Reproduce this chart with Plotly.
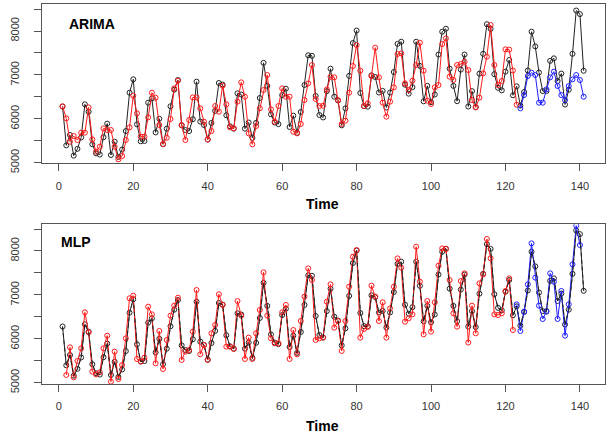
import plotly.graph_objects as go

# ---- data ----
actual = [6280, 5395, 5630, 5160, 5315, 5575, 6330, 6160, 5420, 5213,
          5185, 5580, 5890, 5175, 5478, 5130, 5300, 5720, 6594, 6900,
          5873, 5487, 5494, 6367, 6465, 5690, 6000, 5420, 5775, 6285,
          6663, 6883, 5850, 5744, 5721, 5990, 6845, 5935, 5858, 5525,
          5905, 6180, 6815, 6780, 6080, 5828, 5775, 6580, 6553, 5775,
          5915, 5566, 5908, 6473, 7275, 6750, 6100, 5915, 5878, 6540,
          6686, 5813, 6071, 5680, 6155, 6770, 7446, 7435, 6520, 6086,
          6030, 6630, 7141, 6503, 6416, 5850, 6238, 6978, 7725, 8010,
          6587, 6288, 6276, 6990, 6952, 6598, 6636, 6257, 6598, 7065,
          7707, 7756, 6777, 6572, 6720, 7756, 7206, 6398, 6750, 6378,
          6553, 7464, 7984, 8052, 7141, 6750, 6400, 7120, 7464, 6280,
          6630, 6268, 7028, 7480, 8155, 8048, 7016, 6705, 6648, 7073,
          7339, 6535, 6740, 6300, 6610, 7100, 7984, 7650, 7054, 6630,
          6630, 7320, 7377, 6860, 7030, 6325, 6663, 7480, 8467, 8384,
          7093]

arima_fit = [6283, 6010, 5478, 5607, 5516, 5683, 5683, 6260, 5531, 5251,
             5364, 5782, 5744, 5744, 5364, 5076, 5152, 5516, 5805, 6526,
             6124, 5592, 5592, 6033, 6594, 6481, 5858, 5425, 5569, 5995,
             6693, 6868, 5858, 5516, 5972, 6488, 6488, 6238, 5934, 5532,
             5721, 6291, 6162, 6754, 6329, 5805, 5782, 6390, 6830, 6503,
             5668, 5418, 5835, 6238, 6655, 6997, 6215, 5934, 6291, 6693,
             6503, 6503, 5706, 5668, 5881, 6427, 6807, 7225, 6450, 6291,
             6298, 6670, 6959, 6944, 6427, 5881, 5957, 6594, 7202, 7680,
             7096, 6291, 6352, 6974, 7620, 6944, 6367, 6048, 6390, 6716,
             7475, 7490, 6807, 6655, 6868, 7225, 7733, 7096, 6412, 6336,
             6716, 6769, 7703, 7832, 6959, 6883, 7225, 7248, 7300, 7110,
             6427, 6260, 6481, 7035, 7415, 8136, 7225, 6769, 6860, 7582,
             7575, 7100, 6320]
arima_fc = [6238, 6541, 6974, 7050, 6997, 6367, 6367, 6670, 6944, 7073,
            6746, 6541, 6427, 6746, 6898, 6997, 6883, 6503]

mlp_fit = [5175, 5806, 5122, 5494, 5783, 6603, 6147, 5251, 5191, 5236,
           5783, 6071, 5024, 5707, 5084, 5403, 6010, 6922, 6982, 5540,
           5479, 5570, 6732, 6557, 5441, 6178, 5312, 5973, 6527, 6755,
           6937, 5517, 5707, 5745, 6163, 7112, 5647, 5859, 5517, 6125,
           6315, 7014, 6771, 5821, 5821, 5768, 6861, 6527, 5540, 6026,
           5540, 6125, 6656, 7514, 6527, 6010, 5897, 5897, 6603, 6771,
           5540, 6200, 5646, 6405, 6960, 7605, 7340, 5973, 6010, 6026,
           6846, 7240, 6253, 6405, 5722, 6405, 7187, 7870, 8022, 6026,
           6223, 6276, 7210, 6960, 6405, 6831, 6026, 6694, 7187, 7832,
           7620, 6390, 6466, 6557, 8098, 7301, 6102, 6861, 6163, 6831,
           7666, 8060, 8045, 7339, 6580, 6276, 7317, 7491, 5915, 6754,
           6124, 7263, 7468, 8273, 7833, 6557, 6542, 6580, 7088, 7377,
           6200]
mlp_fc = [6785, 6177, 6618, 7240, 8174, 7393, 6755, 6451, 6618, 7491,
          7301, 6451, 7089, 6071, 6785, 7696, 8577, 8136]

actual_start = 1
arima_fit_start = 1
arima_fc_start = 124
mlp_fit_start = 2
mlp_fc_start = 123

x_ticks = [0, 20, 40, 60, 80, 100, 120, 140]
y_ticks = [5000, 5500, 6000, 6500, 7000, 7500, 8000, 8500]
y_ticktext = ["5000", "", "6000", "", "7000", "", "8000", ""]


def idx(start, vals):
    return list(range(start, start + len(vals)))


BLACK = "#222222"
BLACK_M = "#4a4a4a"
RED = "#ff1a1a"
BLUE = "#1f1fff"
MS = 5


def series(xv, yv, color, mcolor, xa, ya, dash="solid", markers=True):
    return go.Scatter(
        x=xv, y=yv, xaxis=xa, yaxis=ya,
        mode="lines+markers" if markers else "lines",
        line=dict(color=color, width=1, dash=dash),
        marker=dict(symbol="circle-open", size=MS,
                    line=dict(color=mcolor, width=1)),
        showlegend=False, hoverinfo="skip")


fig = go.Figure()
# top panel (ARIMA)
fig.add_trace(series(idx(actual_start, actual), actual, BLACK, BLACK_M, "x", "y"))
fig.add_trace(series(idx(arima_fit_start, arima_fit), arima_fit, RED, RED, "x", "y"))
fig.add_trace(series(idx(arima_fc_start, arima_fc), arima_fc, BLUE, BLUE, "x", "y"))
# bottom panel (MLP)
fig.add_trace(series(idx(actual_start, actual), actual, BLACK, BLACK_M, "x2", "y2"))
fig.add_trace(series(idx(mlp_fit_start, mlp_fit), mlp_fit, RED, RED, "x2", "y2"))
fig.add_trace(series(idx(mlp_fc_start, mlp_fc), mlp_fc, BLUE, BLUE, "x2", "y2"))
fig.add_trace(series(idx(actual_start, actual), actual, BLACK, BLACK_M, "x2", "y2",
                     dash="4px,3px", markers=False))

W, H = 606, 436
FONT = "Liberation Sans, Arial, sans-serif"

axis_common = dict(
    showline=True, mirror=True, linecolor="#555555", linewidth=1,
    ticks="outside", ticklen=7, tickcolor="#555555", tickwidth=1,
    showgrid=False, zeroline=False, automargin=False,
    tickfont=dict(family=FONT, size=11, color="#333333"),
)

xd = [41.7 / W, 604.5 / W]
fig.update_layout(
    width=W, height=H,
    margin=dict(l=0, r=0, t=0, b=0),
    paper_bgcolor="white", plot_bgcolor="white",
    xaxis=dict(domain=xd, anchor="y", range=[-4.6, 146.6],
               tickvals=x_ticks, ticklabelstandoff=5, **axis_common),
    yaxis=dict(domain=[1 - 163.3 / H, 1 - 4 / H], anchor="x",
               range=[4986, 8615], tickvals=y_ticks, ticktext=y_ticktext,
               tickangle=-90, ticklabelstandoff=10, **axis_common),
    xaxis2=dict(domain=xd, anchor="y2", range=[-4.6, 146.6],
                tickvals=x_ticks, ticklabelstandoff=5, **axis_common),
    yaxis2=dict(domain=[1 - 384 / H, 1 - 224.3 / H], anchor="x2",
                range=[4970, 8608], tickvals=y_ticks, ticktext=y_ticktext,
                tickangle=-90, ticklabelstandoff=10, **axis_common),
    annotations=[
        dict(text="<b>ARIMA</b>", x=67 / W, y=1 - 24 / H, xref="paper", yref="paper",
             xanchor="left", yanchor="middle", showarrow=False,
             font=dict(family=FONT, size=14, color="black")),
        dict(text="<b>MLP</b>", x=59 / W, y=1 - 242 / H, xref="paper", yref="paper",
             xanchor="left", yanchor="middle", showarrow=False,
             font=dict(family=FONT, size=14, color="black")),
        dict(text="<b>Time</b>", x=322 / W, y=1 - 204 / H, xref="paper", yref="paper",
             xanchor="center", yanchor="middle", showarrow=False,
             font=dict(family=FONT, size=14, color="black")),
        dict(text="<b>Time</b>", x=322 / W, y=1 - 426 / H, xref="paper", yref="paper",
             xanchor="center", yanchor="middle", showarrow=False,
             font=dict(family=FONT, size=14, color="black")),
    ],
)

fig.write_html("out.html",
               config={"displayModeBar": False},
               post_script="document.body.style.margin='0';"
                           "document.body.style.overflow='hidden';")
